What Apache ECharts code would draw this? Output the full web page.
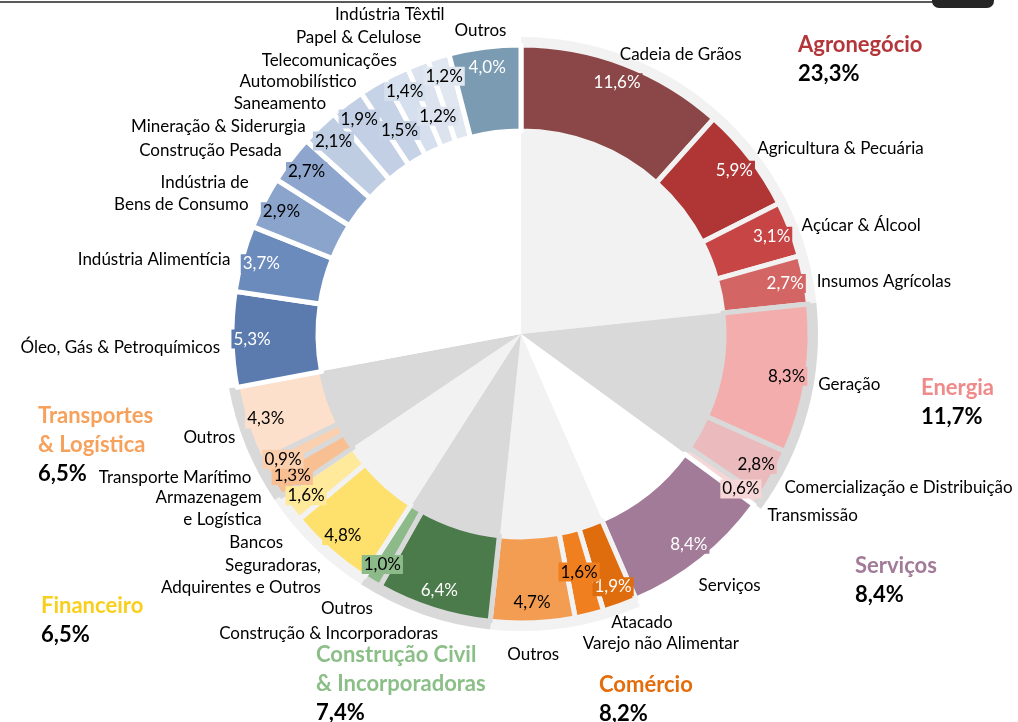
<!DOCTYPE html>
<html>
<head>
<meta charset="utf-8">
<script src="https://cdn.jsdelivr.net/npm/echarts@6/dist/echarts.min.js"></script>
<style>
  html, body { margin: 0; padding: 0; background: #fff; }
  #chart { width: 1018px; height: 722px; }
</style>
</head>
<body>
<div id="chart"></div>
<script>
// grupos (anel de fundo)
const groupNames = ['Agronegócio', 'Energia', 'Serviços', 'Comércio', 'Construção Civil\n& Incorporadoras', 'Financeiro', 'Transportes\n& Logística', 'Indústria']
const groupShares = [23.3, 11.7, 8.4, 8.2, 7.4, 6.5, 6.5, 27.9]

// setores, em sentido horário a partir do topo
const sectorNames = [
  'Cadeia de Grãos', 'Agricultura & Pecuária', 'Açúcar & Álcool', 'Insumos Agrícolas',
  'Geração', 'Comercialização e Distribuição', 'Transmissão',
  'Serviços',
  'Atacado', 'Varejo não Alimentar', 'Outros',
  'Construção & Incorporadoras', 'Outros',
  'Seguradoras,\nAdquirentes e Outros', 'Bancos',
  'Armazenagem\ne Logística', 'Transporte Marítimo', 'Outros',
  'Óleo, Gás & Petroquímicos', 'Indústria Alimentícia', 'Indústria de\nBens de Consumo', 'Construção Pesada',
  'Mineração & Siderurgia', 'Saneamento', 'Automobilístico', 'Telecomunicações',
  'Papel & Celulose', 'Indústria Têxtil', 'Outros'
]
const sectorShares = [
  11.6, 5.9, 3.1, 2.7,
  8.3, 2.8, 0.6,
  8.4,
  1.9, 1.6, 4.7,
  6.4, 1.0,
  4.8, 1.6,
  1.3, 0.9, 4.3,
  5.3, 3.7, 2.9, 2.7,
  2.1, 1.9, 1.5, 1.4,
  1.2, 1.2, 4.0
]

// estilos
const groupBg = ['#f2f2f2', '#d9d9d9', '#ffffff', '#f2f2f2', '#d9d9d9', '#f2f2f2', '#d9d9d9', '#ffffff']
const groupTitleColor = ['#b3373a', '#f08a8a', '#a27b99', '#e46c0a', '#8cbf88', '#f9cf1e', '#f6a15c', null]
const groupTitlePos = [[798, 45], [921, 388], [855, 566], [599, 685], [316, 655], [41, 606], [38, 416], null]
const sectorGroupIdx = [0,0,0,0, 1,1,1, 2, 3,3,3, 4,4, 5,5, 6,6,6, 7,7,7,7,7,7,7,7,7,7,7]
const sectorColors = [
  '#8b4747', '#b03535', '#c74545', '#d46565',
  '#f4adad', '#ebbabd', '#f6d6d6',
  '#a27b99',
  '#df6c0d', '#f0801f', '#f39d52',
  '#4b7a4b', '#8cba89',
  '#fee06d', '#feea9a',
  '#f8bf92', '#fad0ae', '#fde0cb',
  '#5b7baf', '#6c8bbd', '#8aa4cc', '#8ea6cd',
  '#bfcde3', '#c3cfe4', '#c6d2e6', '#d6dfed',
  '#dce3ef', '#e0e7f1', '#7b9bb3'
]
const whiteValue = [0, 1, 2, 3, 7, 8, 11, 18, 19, 28]
// deslocamento radial dos rótulos de valor (px)
const valueShift = { 9: -24, 24: -32, 26: -36 }
// ajuste dos rótulos de nome (px), estilo Excel
const nameNudge = {
  0: [-10, 0], 1: [-3, -3], 3: [0, 4], 4: [0, 4], 5: [0, 8], 6: [0, 9],
  7: [-11, 18], 8: [-14, 8], 9: [-11, 19], 10: [-28, 22],
  11: [10, 15], 12: [8, 18], 13: [0, 19], 14: [3, 29],
  15: [-3, 17], 16: [-3, 4], 17: [0, 9],
  18: [0, 8], 19: [0, 4], 20: [-4, -4], 21: [1, -3], 22: [-5, 7], 23: [-13, 8],
  24: [-9, 4], 25: [7, -4], 26: [9, -17], 27: [11, -33], 28: [25, -7]
}

const cx = 521, cy = 334
const FONT = 'Lato, "Noto Sans", sans-serif'
const fmt = v => v.toFixed(1).replace('.', ',') + '%'

function radialLayout(shifts) {
  return function (p) {
    const s = shifts[p.dataIndex]
    if (!s) return {}
    const r = p.labelRect
    const x = r.x + r.width / 2 - cx, y = r.y + r.height / 2 - cy
    const d = Math.sqrt(x * x + y * y)
    return { dx: x / d * s, dy: y / d * s }
  }
}

const chart = echarts.init(document.getElementById('chart'))

const graphics = [
  { type: 'line', shape: { x1: 0, y1: 2, x2: 936, y2: 2 }, style: { stroke: '#595959', lineWidth: 2 } },
  { type: 'rect', shape: { x: 932, y: -12, width: 62, height: 20, r: 7 }, style: { fill: '#262626' } }
]
groupNames.forEach((n, i) => {
  const pos = groupTitlePos[i]
  if (!pos) return
  const lines = n.split('\n')
  lines.concat([fmt(groupShares[i])]).forEach((t, k) => {
    graphics.push({
      type: 'text',
      x: pos[0], y: pos[1] + k * 29,
      style: {
        text: t,
        fill: k < lines.length ? groupTitleColor[i] : '#000',
        font: 'bold 22px ' + FONT,
        verticalAlign: 'middle'
      }
    })
  })
})

chart.setOption({
  animation: false,
  graphic: graphics,
  series: [
    {
      type: 'pie',
      silent: true,
      center: [cx, cy],
      radius: [0, 297],
      startAngle: 90,
      label: { show: false },
      labelLine: { show: false },
      data: groupNames.map((n, i) => ({ name: n, value: groupShares[i], itemStyle: { color: groupBg[i] } }))
    },
    {
      type: 'pie',
      silent: true,
      center: [cx, cy],
      radius: [203, 289],
      startAngle: 90,
      avoidLabelOverlap: false,
      emphasis: { disabled: true },
      label: {
        show: true,
        position: 'outside',
        formatter: '{b}',
        fontFamily: FONT,
        fontSize: 17,
        lineHeight: 22,
        color: '#000',
        distanceToLabelLine: 2
      },
      labelLine: { show: false, length: 10, length2: 0 },
      labelLayout: function (p) {
        const n = nameNudge[p.dataIndex]
        return n ? { dx: n[0], dy: n[1] } : {}
      },
      data: sectorNames.map((n, i) => ({
        name: n,
        value: sectorShares[i],
        itemStyle: { color: sectorColors[i], borderColor: groupBg[sectorGroupIdx[i]], borderWidth: 5 }
      }))
    },
    {
      type: 'pie',
      silent: true,
      center: [cx, cy],
      radius: [246, 286],
      startAngle: 90,
      avoidLabelOverlap: false,
      emphasis: { disabled: true },
      labelLine: { show: false },
      labelLayout: radialLayout(valueShift),
      data: sectorShares.map((v, i) => ({
        name: sectorNames[i],
        value: v,
        itemStyle: { color: 'rgba(0,0,0,0)' },
        label: {
          show: true,
          position: 'inside',
          formatter: fmt(v),
          fontFamily: FONT,
          fontSize: 17,
          color: whiteValue.indexOf(i) >= 0 ? '#fff' : '#000',
          backgroundColor: sectorColors[i],
          padding: [1, 2]
        }
      }))
    }
  ]
})
</script>
</body>
</html>
